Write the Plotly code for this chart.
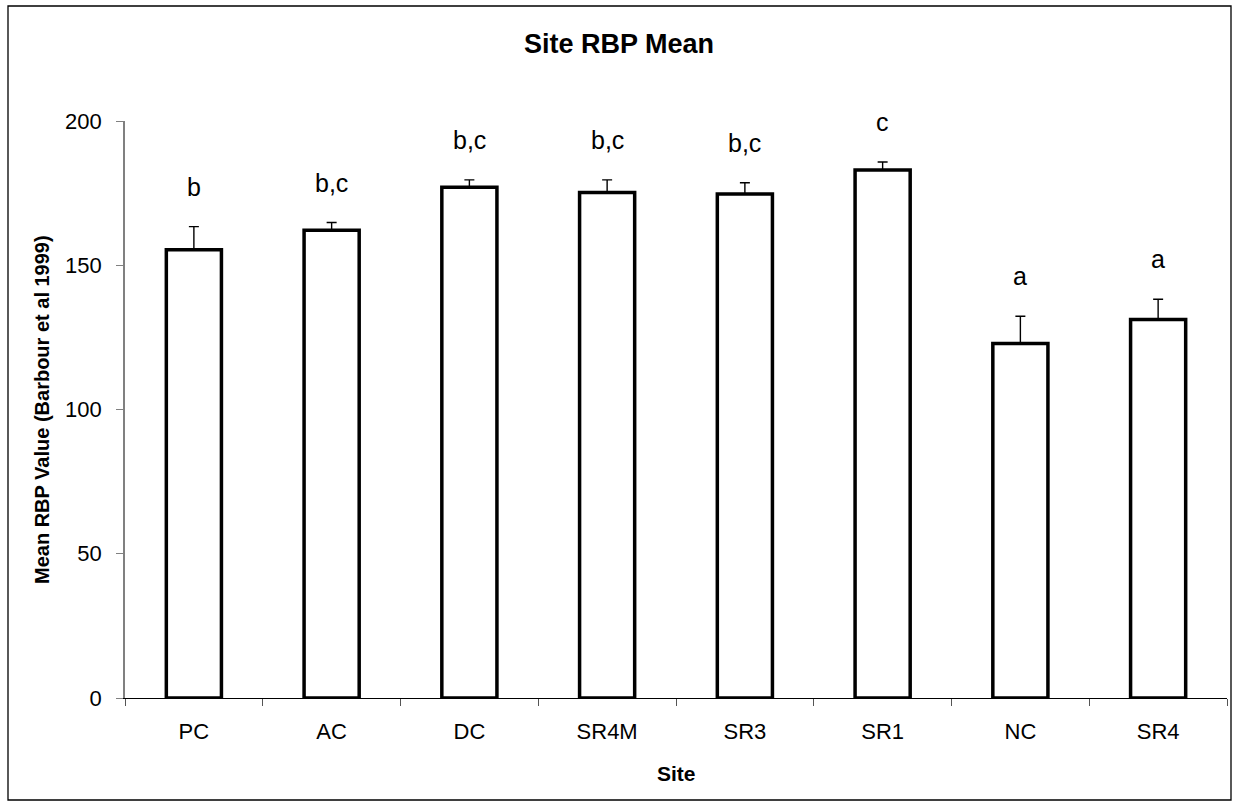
import plotly.graph_objects as go

sites = ["PC", "AC", "DC", "SR4M", "SR3", "SR1", "NC", "SR4"]
means = [155.4, 162.1, 177.0, 175.2, 174.7, 183.0, 122.9, 131.2]
errors = [8.0, 2.7, 2.6, 4.4, 3.9, 2.8, 9.4, 7.0]
groups = ["b", "b,c", "b,c", "b,c", "b,c", "c", "a", "a"]
yticks = [0, 50, 100, 150, 200]

FONT = "Liberation Sans, Arial, sans-serif"
W, H = 1238, 803
L, R, T, B = 125, 11, 121, 105
PW, PH = W - L - R, H - T - B


def px(x):
    return (x - L) / PW


def py(y):
    return (H - B - y) / PH


fig = go.Figure()
fig.add_trace(go.Bar(
    x=sites, y=means,
    marker=dict(color="white", line=dict(color="black", width=3.5)),
    error_y=dict(type="data", symmetric=False, array=errors,
                 arrayminus=[0] * len(errors), color="black",
                 thickness=1.4, width=5),
    showlegend=False,
))

for s, m, e, g in zip(sites, means, errors, groups):
    fig.add_annotation(x=s, y=m + e, text=g, showarrow=False,
                       yshift=40, yanchor="middle",
                       font=dict(family=FONT, size=25, color="black"))

fig.add_annotation(xref="paper", yref="paper", x=px(619), y=py(44),
                   text="<b>Site RBP Mean</b>", showarrow=False, yanchor="middle",
                   font=dict(family=FONT, size=27, color="black"))
fig.add_annotation(xref="paper", yref="paper", x=px(676), y=py(773),
                   text="<b>Site</b>", showarrow=False, yanchor="middle",
                   font=dict(family=FONT, size=21, color="black"))
fig.add_annotation(xref="paper", yref="paper", x=px(42), y=py(410),
                   text="<b>Mean RBP Value (Barbour et al 1999)</b>", showarrow=False,
                   textangle=-90, xanchor="center", yanchor="middle",
                   font=dict(family=FONT, size=20, color="black"))

fig.add_shape(type="rect", xref="paper", yref="paper",
              x0=px(8), x1=px(1231), y0=py(800), y1=py(6),
              line=dict(color="black", width=1.3), fillcolor="rgba(0,0,0,0)")

fig.update_layout(
    width=W, height=H,
    margin=dict(l=L, r=R, t=T, b=B),
    paper_bgcolor="white", plot_bgcolor="white",
    bargap=0.6,
    font=dict(family=FONT, size=22, color="black"),
    xaxis=dict(showline=True, linecolor="black", linewidth=1.2,
               ticks="outside", ticklen=7, tickcolor="#555",
               tickson="boundaries", showgrid=False,
               ticklabelstandoff=13,
               tickfont=dict(size=22, family=FONT)),
    yaxis=dict(range=[0, 200], tickvals=yticks, showline=True,
               linecolor="#808080", linewidth=1.6, ticks="outside",
               ticklen=7, tickcolor="#808080", showgrid=False, zeroline=False,
               ticklabelstandoff=10,
               tickfont=dict(size=22, family=FONT)),
)

fig.write_html("out.html", config={"displayModeBar": False},
               post_script="document.body.style.margin='0';")
